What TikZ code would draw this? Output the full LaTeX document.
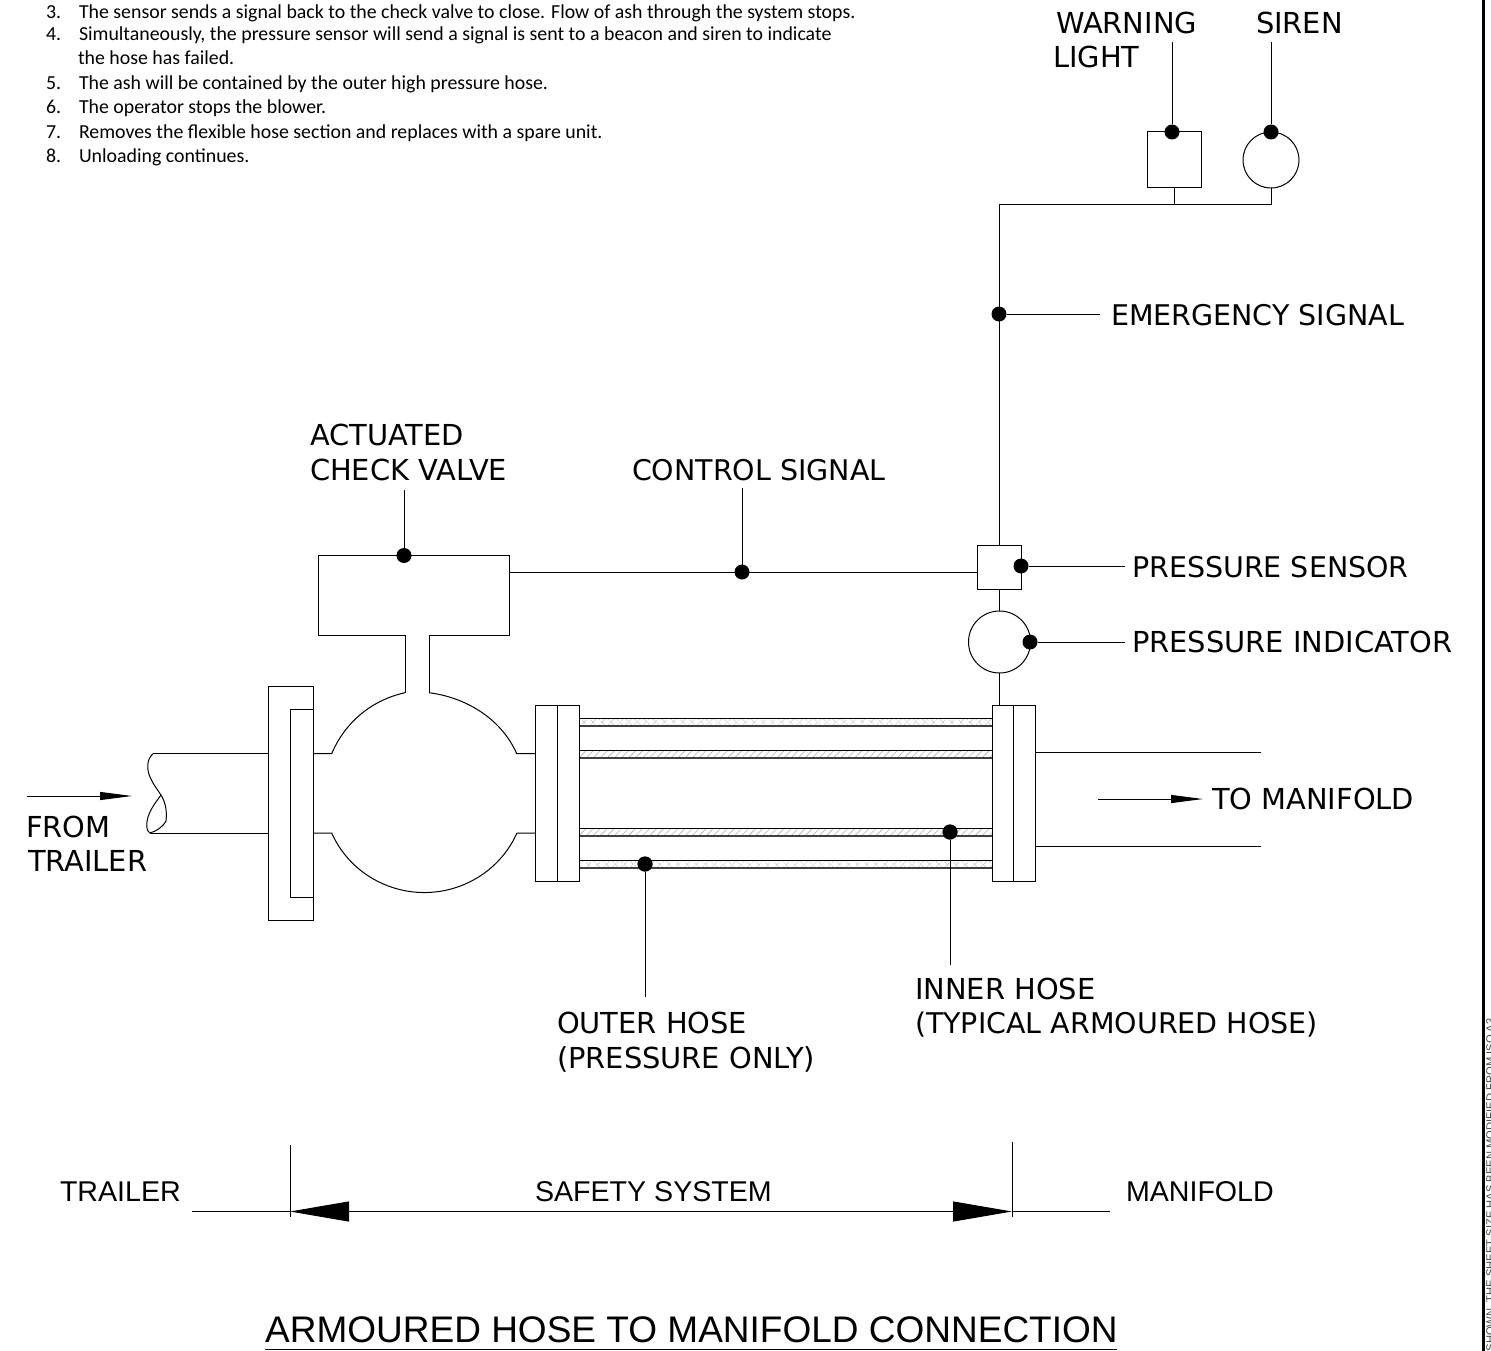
\documentclass[tikz,border=0pt]{standalone}
\usepackage{fontspec}
\setmainfont{DejaVu Sans}
\newfontfamily\arialf{Liberation Sans}
\newfontfamily\califont{Carlito}
\usetikzlibrary{arrows.meta,patterns.meta}
\tikzset{
  x=1pt,y=-1pt,
  ln/.style={line width=1pt,black},
  box/.style={draw,ln,rectangle,inner sep=0pt,outer sep=0pt},
  circ/.style={draw,ln,circle,inner sep=0pt,outer sep=0pt},
  dot/.style={circle,fill=black,inner sep=0pt,outer sep=0pt,minimum size=15pt},
  lab/.style={anchor=base west,inner sep=0pt,outer sep=0pt,font=\fontsize{28.9}{34}\selectfont},
  labn/.style={anchor=base west,inner sep=0pt,outer sep=0pt,font=\fontsize{28.5}{34}\selectfont},
  alab/.style={anchor=base west,inner sep=0pt,outer sep=0pt,font=\arialf\fontsize{28.6}{34}\selectfont},
  note/.style={anchor=base west,inner sep=0pt,outer sep=0pt,font=\califont\fontsize{19.85}{22}\selectfont},
  smallarrow/.style={ln,-{Triangle[length=32pt,width=8pt]}},
  bigarrow/.style={ln,{Triangle[length=59pt,width=20pt]}-{Triangle[length=59pt,width=20pt]}},
  hoseX/.style={pattern={Lines[angle=45,distance=5pt,line width=.6pt]},pattern color=gray!60},
  hoseXX/.style={postaction={pattern={Lines[angle=45,distance=6.5pt,line width=.6pt]},pattern color=gray!60},
                 postaction={pattern={Lines[angle=-45,distance=6.5pt,line width=.6pt]},pattern color=gray!60}},
}
\begin{document}
\begin{tikzpicture}
\useasboundingbox (0,0) rectangle (1491,1351);
\clip (0,0) rectangle (1491,1351);
\fill[white] (0,0) rectangle (1491,1351);
% notes
\node[note] (n3a) at (46,18.5) {3.};
\node[note] (n3) at (79,18.5) {The sensor sends a signal back to the check valve to close. Flow of ash through the system stops.};
\node[note] (n4a) at (46,41) {4.};
\node[note] (n4) at (79,41) {Simultaneously, the pressure sensor will send a signal is sent to a beacon and siren to indicate};
\node[note] (n4b) at (78,65) {the hose has failed.};
\node[note] (n5a) at (46,90) {5.};
\node[note] (n5) at (79,90) {The ash will be contained by the outer high pressure hose.};
\node[note] (n6a) at (46,114) {6.};
\node[note] (n6) at (79,114) {The operator stops the blower.};
\node[note] (n7a) at (46,139) {7.};
\node[note] (n7) at (79,139) {Removes the flexible hose section and replaces with a spare unit.};
\node[note] (n8a) at (46,163) {8.};
\node[note] (n8) at (79,163) {Unloading continues.};
% border
\fill[black] (1482,0) rectangle (1485,1351);
\node[anchor=base west,inner sep=0pt,rotate=90,font=\arialf\fontsize{11.2}{13}\selectfont,text=black!70] (sheet) at (1494,1351.5) {SHOWN. THE SHEET SIZE HAS BEEN MODIFIED FROM ISO A3};
% instruments
\node[box,minimum width=54pt,minimum height=56pt] (warn) at (1174.5,160) {};
\node[circ,minimum size=56pt] (siren) at (1271,160) {};
\node[box,minimum width=44pt,minimum height=44pt] (sensor) at (999,567) {};
\node[circ,minimum size=62pt] (ind) at (999.5,642) {};
\node[dot] (dwarn) at (1172,132) {};
\node[dot] (dsiren) at (1271,132) {};
\node[dot] (demerg) at (999,314) {};
\node[dot] (dsensor) at (1021,566) {};
\node[dot] (dind) at (1030,642) {};
\node[dot] (dvalve) at (404,555.5) {};
\node[dot] (dctrl) at (742,572) {};
\node[dot] (dinner) at (950,832) {};
\node[dot] (douter) at (645,864) {};
\coordinate (j1) at (1174.5,204.5);
\coordinate (j2) at (999,204.5);
\coordinate (j3) at (1271,204.5);
\coordinate (flangeTop) at (999,705);
\coordinate (ewarn) at (1172,42);
\coordinate (esiren) at (1271,42);
\coordinate (eemerg) at (1100,314);
\coordinate (esens) at (1125,566);
\coordinate (eind) at (1125,642);
\coordinate (evalve) at (404,490);
\coordinate (ectrl) at (742,488);
\coordinate (einner) at (950,965);
\coordinate (eouter) at (645,997);
\coordinate (valveR) at (509,572);
\draw[ln] (dwarn) -- (ewarn);
\draw[ln] (dsiren) -- (esiren);
\draw[ln] (warn.south) -- (j1);
\draw[ln] (siren.south) -- (j3) -- (j2) -- (sensor.north);
\draw[ln] (demerg) -- (eemerg);
\draw[ln] (dsensor) -- (esens);
\draw[ln] (dind) -- (eind);
\draw[ln] (sensor.south) -- (sensor.south |- ind.north);
\draw[ln] (sensor.south |- ind.south) -- (flangeTop);
\draw[ln] (dvalve) -- (evalve);
\draw[ln] (dctrl) -- (ectrl);
\draw[ln] (valveR) -- (sensor.west |- valveR);
% hoses
\foreach \ya/\yb/\st in {718/726/hoseXX,860/868/hoseXX}{
  \path[\st] (579,\ya) rectangle (992,\yb);
  \draw[ln] (579,\ya) -- (992,\ya);
  \draw[line width=1.5pt,black!75] (579,\yb) -- (992,\yb);
}
\foreach \ya/\yb in {750/758,828/836}{
  \path[hoseX] (579,\ya) rectangle (992,\yb);
  \draw[ln] (579,\ya) -- (992,\ya);
  \draw[line width=1.5pt,black!75] (579,\yb) -- (992,\yb);
}
\node[dot] at (dinner) {};
\node[dot] at (douter) {};
\draw[ln] (dinner) -- (einner);
\draw[ln] (douter) -- (eouter);
% flanges
\draw[ln,fill=white] (535.5,705.5) rectangle (579,881);
\draw[ln] (557,705.5) -- (557,881);
\draw[ln,fill=white] (992,705.5) rectangle (1035.5,881);
\draw[ln] (1013.5,705.5) -- (1013.5,881);
\draw[ln] (268.7,686) rectangle (313.3,920.7);
\draw[ln] (313.3,709) -- (290.5,709) -- (290.5,897.5) -- (313.3,897.5);
% actuator and ball
\draw[ln] (405,692.7) -- (405,635) -- (318.5,635) -- (318.5,555.5) -- (509,555.5) -- (509,635) -- (429,635) -- (429,692.7);
\draw[ln,line join=round] (313.3,753.7) -- (331.7,753.7) .. controls (345,722) and (372,700) .. (405,692.7);
\draw[ln,line join=round] (535.5,753.7) -- (516.7,753.7) .. controls (503,722) and (470,698) .. (429,692.7);
\draw[ln,line join=round] (313.3,833) -- (331.7,833) arc[start angle=156.5,end angle=23.5,x radius=101,y radius=99] -- (535.5,833);
% pipes
\draw[ln] (153,753.7) -- (268.7,753.7);
\draw[ln] (150,833) -- (268.7,833);
\draw[line width=1pt] (153,753.7) .. controls (146,760) and (147,770) .. (150,777)
  .. controls (153,784) and (157,789) .. (161,795)
  .. controls (166,803) and (167,812) .. (166,821)
  .. controls (162,828) and (156,831) .. (150,833)
  .. controls (146,831) and (146,824) .. (148,817)
  .. controls (151,808) and (156,802) .. (161,795);
\draw[ln] (1035.5,752) -- (1261,752);
\draw[ln] (1035.5,846) -- (1261,846);
% flow arrows
\coordinate (fa1) at (27,796);
\coordinate (fa2) at (132,796);
\coordinate (fb1) at (1098,799);
\coordinate (fb2) at (1203,799);
\draw[smallarrow] (fa1) -- (fa2);
\draw[smallarrow] (fb1) -- (fb2);
% dimension
\coordinate (dL) at (290,1211.5);
\coordinate (dR) at (1012,1211.5);
\coordinate (dLL) at (192,1211.5);
\coordinate (dRR) at (1110,1211.5);
\draw[ln] (dLL) -- (dL);
\draw[ln] (dR) -- (dRR);
\draw[bigarrow] (dL) -- (dR);
\draw[ln] (290,1145) -- (290,1217);
\draw[ln] (1012,1142) -- (1012,1217);
% labels
\node[lab] (lw) at (1056,33.5) {WARNING};
\node[lab] (ll) at (1053,68) {LIGHT};
\node[lab] (ls) at (1256,33.5) {SIREN};
\node[labn] (le) at (1111,325) {EMERGENCY SIGNAL};
\node[lab] (la) at (310,445) {ACTUATED};
\node[lab] (lc) at (310,480) {CHECK VALVE};
\node[labn] (lcs) at (632,480) {CONTROL SIGNAL};
\node[labn] (lps) at (1132,577) {PRESSURE SENSOR};
\node[lab] (lpi) at (1132,652) {PRESSURE INDICATOR};
\node[lab] (ltm) at (1212,809) {TO MANIFOLD};
\node[lab] (lf) at (26,837) {FROM};
\node[lab] (lt) at (28,871) {TRAILER};
\node[lab] (lo1) at (557,1033) {OUTER HOSE};
\node[lab] (lo2) at (557,1068) {(PRESSURE ONLY)};
\node[lab] (li1) at (915,999) {INNER HOSE};
\node[labn] (li2) at (915,1033) {(TYPICAL ARMOURED HOSE)};
\node[alab] (tt) at (60,1201) {TRAILER};
\node[alab] (ts) at (535,1201.5) {SAFETY SYSTEM};
\node[alab] (tm) at (1126,1201) {MANIFOLD};
\node[anchor=base west,inner sep=0pt,font=\arialf\fontsize{37}{44}\selectfont] (title) at (265,1342) {ARMOURED HOSE TO MANIFOLD CONNECTION};
\draw[ln] (265,1349.3) -- (1117,1349.3);
\end{tikzpicture}
\end{document}
